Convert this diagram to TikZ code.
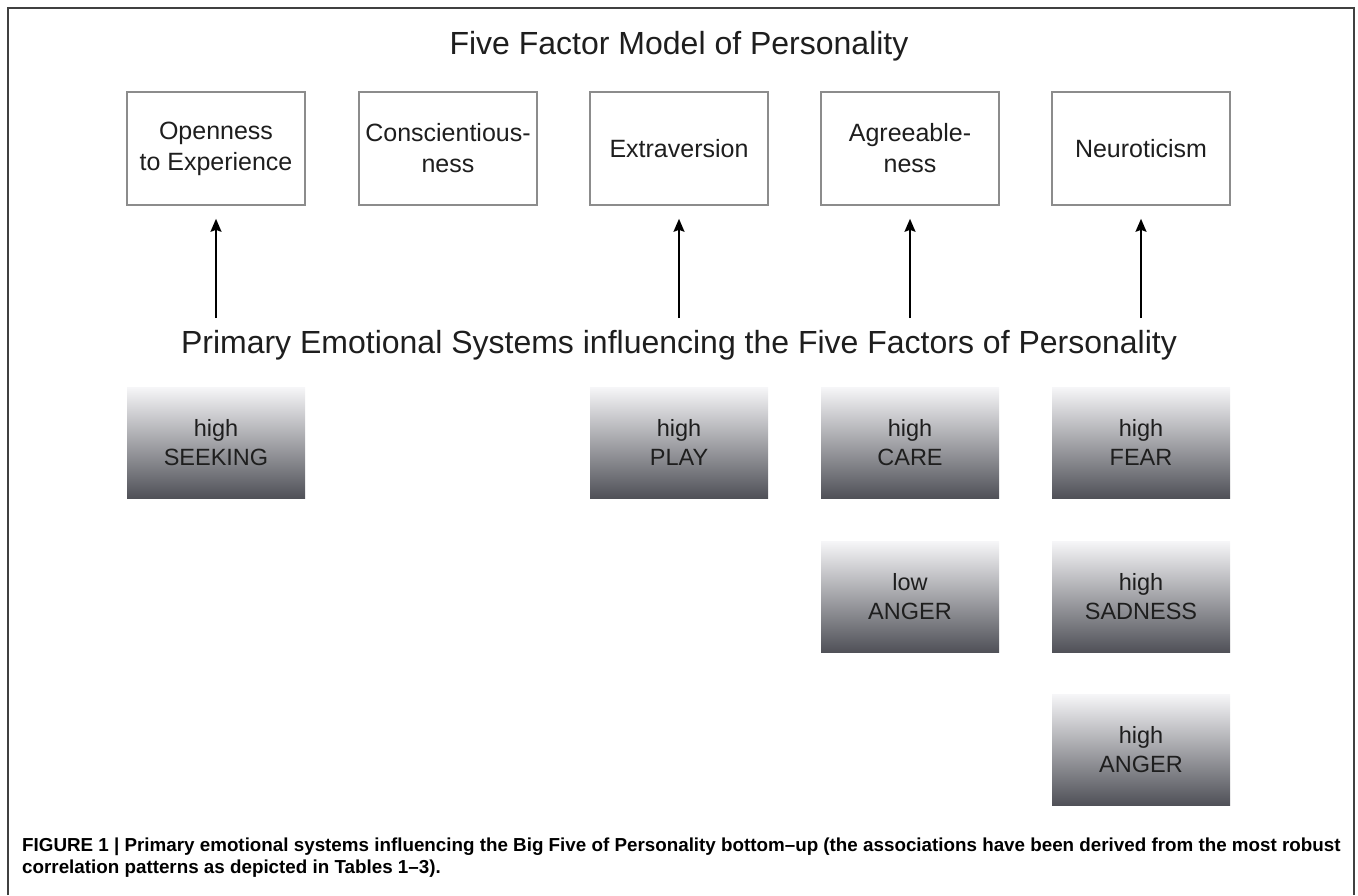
\documentclass[tikz,border=0pt]{standalone}
\usepackage{fontspec}
\setmainfont{Liberation Sans}
\newfontfamily\capfont{Liberation Sans}
\usetikzlibrary{arrows.meta}
\definecolor{boxgray}{RGB}{140,140,140}
\definecolor{gtop}{RGB}{246,246,248}
\definecolor{gbot}{RGB}{80,81,88}
\definecolor{txt}{RGB}{30,30,30}
\tikzset{
  factor/.style={draw=boxgray, line width=1.6pt, fill=white, minimum width=178pt, minimum height=113pt,
    align=center, font=\fontsize{25}{31}\selectfont, text=txt, inner sep=0pt},
  emo/.style={top color=gtop, bottom color=gbot, minimum width=178pt, minimum height=111pt,
    align=center, font=\fontsize{23.5}{29}\selectfont, text=txt, inner sep=0pt},
  head/.style={font=\fontsize{32}{36}\selectfont, text=txt, inner sep=0pt},
  up/.style={-{Stealth[length=13pt,width=11pt,inset=2pt]}, line width=1.8pt, shorten >=13pt},
  capline/.style={anchor=west, font=\capfont\bfseries\fontsize{18.8}{22}\selectfont, inner sep=0pt, text=black}
}
\begin{document}
\begin{tikzpicture}[x=1pt,y=-1pt]
\useasboundingbox (0,0) rectangle (1358,895);
\draw[line width=1.2pt, color=black!75] (8,895) -- (8,8) -- (1354,8) -- (1354,895);

\node[head] (title) at (679,46) {Five Factor Model of Personality};

\node[factor] (f1) at (216,148.5) {Openness\\to Experience};
\node[factor] (f2) at (448,148.5) {Conscientious-\\ness};
\node[factor] (f3) at (679,148.5) {Extraversion};
\node[factor] (f4) at (910,148.5) {Agreeable-\\ness};
\node[factor] (f5) at (1141,148.5) {Neuroticism};

\coordinate (s1) at (216,318);
\coordinate (s3) at (679,318);
\coordinate (s4) at (910,318);
\coordinate (s5) at (1141,318);
\draw[up] (s1) -- (f1.south);
\draw[up] (s3) -- (f3.south);
\draw[up] (s4) -- (f4.south);
\draw[up] (s5) -- (f5.south);

\node[head] (sub) at (679,345) {Primary Emotional Systems influencing the Five Factors of Personality};

\node[emo] (e1) at (216,442.5) {high\\SEEKING};
\node[emo] (e3) at (679,442.5) {high\\PLAY};
\node[emo] (e4) at (910,442.5) {high\\CARE};
\node[emo] (e5) at (1141,442.5) {high\\FEAR};
\node[emo] (e6) at (910,596.5) {low\\ANGER};
\node[emo] (e7) at (1141,596.5) {high\\SADNESS};
\node[emo] (e8) at (1141,749.5) {high\\ANGER};

\node[capline] (c1) at (22,847) {FIGURE 1 | Primary emotional systems influencing the Big Five of Personality bottom–up (the associations have been derived from the most robust};
\node[capline] (c2) at (22,869) {correlation patterns as depicted in Tables 1–3).};
\end{tikzpicture}
\end{document}
